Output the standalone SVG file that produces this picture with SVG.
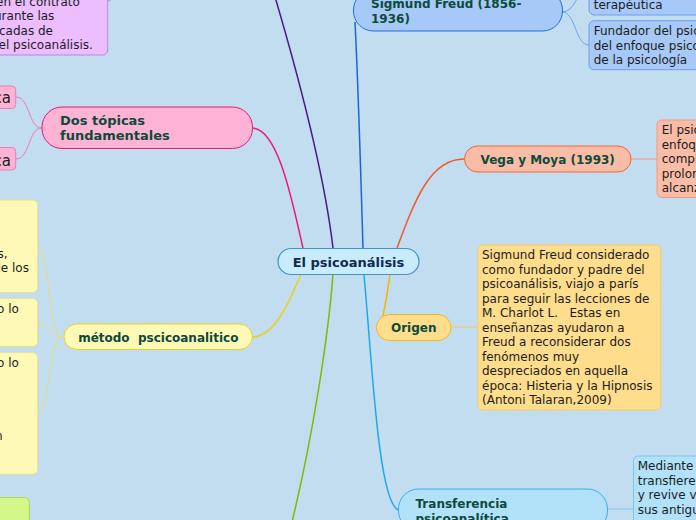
<svg xmlns="http://www.w3.org/2000/svg" width="696" height="520" viewBox="0 0 696 520">
<style>
.t{font-family:"DejaVu Sans",Verdana,sans-serif;font-size:12px;fill:#1c1c1c}
.h{font-family:"DejaVu Sans",Verdana,sans-serif;font-size:12px;font-weight:bold;fill:#0c4a3a}
.h13{font-size:13px}
.big{font-size:15px}
.ctr{font-size:13px;fill:#11294e}
.m{text-anchor:middle}
.e{text-anchor:end}
.pre{white-space:pre}
.main path{fill:none;stroke-width:1.5}
.sub path{fill:none;stroke-width:1}
.box{stroke-width:1}
</style>
<rect x="0" y="0" width="696" height="520" fill="#c2ddf0"/>

<g id="connectors">
  <g class="main">
    <path d="M333,248 C325,180 300,80 270,-20" stroke="#4b1a7d"/>
    <path d="M303,248 C292,200 278,128 252,128" stroke="#ec1a74"/>
    <path d="M363,248 C361,180 358,80 355,22" stroke="#1a66d9"/>
    <path d="M397,248 C415,200 430,159 464,159" stroke="#f15a24"/>
    <path d="M390,274 C388,290 386,302 383,316" stroke="#f7b500"/>
    <path d="M301,274 C290,300 275,337 252,337" stroke="#ead21b"/>
    <path d="M333,274 C328,340 312,440 292,522" stroke="#7cbb00"/>
    <path d="M364,275 C372,360 378,500 398,510" stroke="#1fa7ee"/>
  </g>
  <g class="sub">
    <path d="M108,1 C113,1 113,-10 120,-10" stroke="#b48ad9"/>
    <path d="M562,12 C576,12 574,-8 589,-8" stroke="#6da0ea"/>
    <path d="M562,12 C576,12 575,45 589,45" stroke="#6da0ea"/>
    <path d="M631,159 L657,159" stroke="#f29a80"/>
    <path d="M451,327 L478,327" stroke="#f5c860"/>
    <path d="M607,509 L633,509" stroke="#7ac6ef"/>
    <path d="M42,128 C28,128 30,97 16,97" stroke="#f07aaf"/>
    <path d="M42,128 C28,128 30,159 16,159" stroke="#f07aaf"/>
    <path d="M62,337 C48,337 50,247 38,247" stroke="#e8dc7c"/>
    <path d="M62,337 C50,337 50,323 38,323" stroke="#e8dc7c"/>
    <path d="M62,337 C48,337 50,413 38,413" stroke="#e8dc7c"/>
  </g>
</g>

<g id="node-purple-text">
  <rect class="box" x="-20" y="-40" width="127.7" height="95" rx="5" fill="#ecbdff" stroke="#b48ad9"/>
  <text class="t" x="-4" y="5.5">en el contrato</text>
  <text class="t" x="-6" y="20">urante las</text>
  <text class="t" x="-1" y="34.5">cadas de</text>
  <text class="t" x="-1.5" y="49">el psicoanálisis.</text>
</g>

<g id="node-dos-topicas">
  <rect class="box" x="42" y="107" width="210.5" height="41.5" rx="20" fill="#ffb3d4" stroke="#e9186f"/>
  <text class="h h13" x="60" y="125">Dos tópicas</text>
  <text class="h h13" x="60" y="140">fundamentales</text>
</g>
<g id="node-dos-1">
  <rect class="box" x="-20" y="86" width="35.7" height="22.5" rx="4" fill="#ffb3d4" stroke="#f07aaf"/>
  <text class="t big e" x="11" y="102.5">ca</text>
</g>
<g id="node-dos-2">
  <rect class="box" x="-20" y="147.5" width="35.7" height="22.5" rx="4" fill="#ffb3d4" stroke="#f07aaf"/>
  <text class="t big e" x="11" y="165.5">ca</text>
</g>

<g id="node-metodo">
  <rect class="box" x="64" y="324" width="188.3" height="25.5" rx="12.7" fill="#fff9b8" stroke="#e9d322"/>
  <text class="h m pre" x="158.3" y="341.5">método  pscicoanalitico</text>
</g>
<g id="node-metodo-1">
  <rect class="box" x="-20" y="200" width="57.7" height="92.5" rx="5" fill="#fff9b8" stroke="#eee08a"/>
  <text class="t" x="-2.5" y="257.8">s,</text>
  <text class="t" x="-2.5" y="272.3">le los</text>
</g>
<g id="node-metodo-2">
  <rect class="box" x="-20" y="298.5" width="57.7" height="48" rx="5" fill="#fff9b8" stroke="#eee08a"/>
  <text class="t" x="-3" y="312.6">o lo</text>
</g>
<g id="node-metodo-3">
  <rect class="box" x="-20" y="352.7" width="57.7" height="121.5" rx="5" fill="#fff9b8" stroke="#eee08a"/>
  <text class="t" x="-3" y="367">o lo</text>
  <text class="t" x="-5" y="439.5">n</text>
</g>

<g id="node-green-text">
  <rect class="box" x="-20" y="497.5" width="49.3" height="40" rx="5" fill="#d4f78a" stroke="#afd95c"/>
</g>

<g id="node-center">
  <rect x="278" y="248.5" width="141" height="26" rx="13" fill="#c9ecfd" stroke="#3f92d8" stroke-width="1.2"/>
  <text class="h ctr m" x="348.5" y="266.5">El psicoanálisis</text>
</g>

<g id="node-sigmund">
  <rect class="box" x="353.5" y="-10" width="209" height="41" rx="20" fill="#a7c9f7" stroke="#2371de"/>
  <text class="h" x="371" y="8">Sigmund Freud (1856-</text>
  <text class="h" x="371" y="23">1936)</text>
</g>
<g id="node-sigmund-1">
  <rect class="box" x="589" y="-40" width="130" height="55" rx="5" fill="#a7c9f7" stroke="#6da0ea"/>
  <text class="t" x="593.7" y="9">terapéutica</text>
</g>
<g id="node-sigmund-2">
  <rect class="box" x="589" y="20.7" width="130" height="49" rx="5" fill="#a7c9f7" stroke="#6da0ea"/>
  <text class="t" x="593.7" y="35">Fundador del psic</text>
  <text class="t" x="593.7" y="49.5">del enfoque psico</text>
  <text class="t" x="593.7" y="64">de la psicología</text>
</g>

<g id="node-vega">
  <rect class="box" x="464.5" y="146" width="166.5" height="26" rx="13" fill="#f9bca6" stroke="#f2643a"/>
  <text class="h m" x="547.7" y="164">Vega y Moya (1993)</text>
</g>
<g id="node-vega-1">
  <rect class="box" x="657" y="120" width="60" height="77.5" rx="5" fill="#f9bca6" stroke="#f29a80"/>
  <text class="t" x="661.7" y="134.3">El psic</text>
  <text class="t" x="661.7" y="148.8">enfoq</text>
  <text class="t" x="661.7" y="163.3">compl</text>
  <text class="t" x="661.7" y="177.8">prolon</text>
  <text class="t" x="661.7" y="192.3">alcanz</text>
</g>

<g id="node-origen">
  <rect class="box" x="376.5" y="314.5" width="74.5" height="26" rx="13" fill="#fedd8c" stroke="#f4b81e"/>
  <text class="h m" x="413.7" y="332.3">Origen</text>
</g>
<g id="node-origen-1">
  <rect class="box" x="478" y="245" width="182.7" height="165" rx="5" fill="#fedd8c" stroke="#f3cb6a"/>
  <text class="t" x="482" y="259.3">Sigmund Freud considerado</text>
  <text class="t" x="482" y="273.8">como fundador y padre del</text>
  <text class="t" x="482" y="288.3">psicoanálisis, viajo a parís</text>
  <text class="t" x="482" y="302.8">para seguir las lecciones de</text>
  <text class="t pre" x="482" y="317.3">M. Charlot L.   Estas en</text>
  <text class="t" x="482" y="331.8">enseñanzas ayudaron a</text>
  <text class="t" x="482" y="346.3">Freud a reconsiderar dos</text>
  <text class="t" x="482" y="360.8">fenómenos muy</text>
  <text class="t" x="482" y="375.3">despreciados en aquella</text>
  <text class="t" x="482" y="389.8">época: Histeria y la Hipnosis</text>
  <text class="t" x="482" y="404.3">(Antoni Talaran,2009)</text>
</g>

<g id="node-transferencia">
  <rect class="box" x="398.5" y="489" width="209" height="42" rx="20" fill="#b1e2fa" stroke="#3bb0ee"/>
  <text class="h" x="415.5" y="507.5">Transferencia</text>
  <text class="h" x="415.5" y="522.5">psicoanalítica</text>
</g>
<g id="node-transferencia-1">
  <rect class="box" x="633.5" y="456" width="80" height="80" rx="5" fill="#b1e2fa" stroke="#7ac6ef"/>
  <text class="t" x="637.7" y="470.3">Mediante</text>
  <text class="t" x="637.7" y="484.8">transfiere</text>
  <text class="t" x="637.7" y="499.3">y revive v</text>
  <text class="t" x="637.7" y="513.8">sus antigu</text>
</g>
</svg>
